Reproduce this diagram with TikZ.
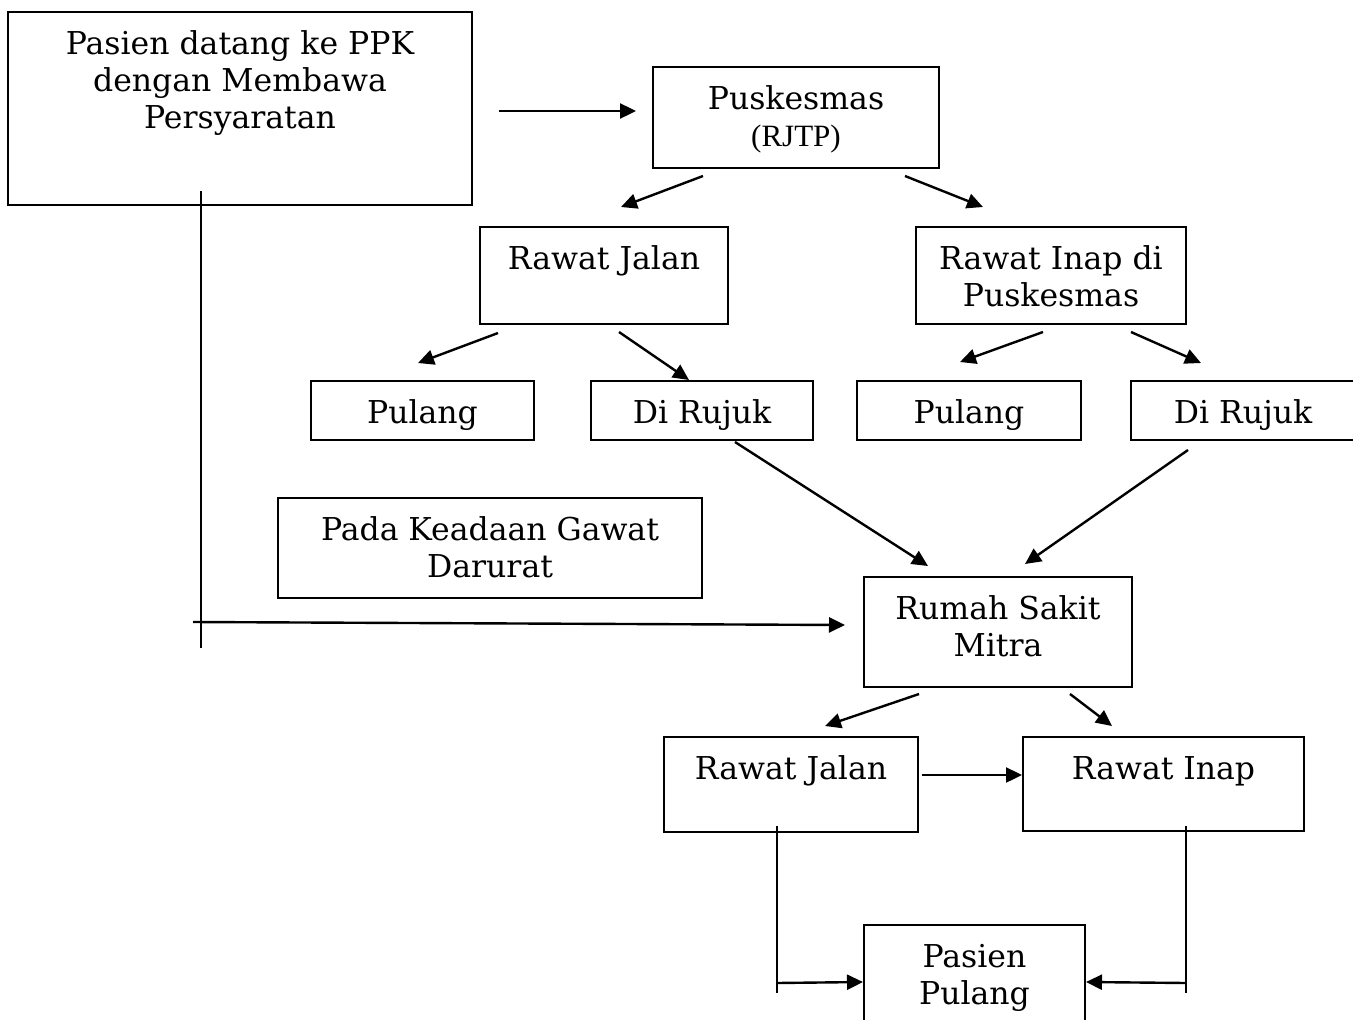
\documentclass[tikz,border=0pt]{standalone}
\usepackage{fontspec}
\setmainfont{DejaVu Serif}
\newfontfamily\rjtpfont{Liberation Serif}
\usepackage{tikz}
\usetikzlibrary{arrows.meta, positioning, calc}
\newcommand{\upbox}[3]{\parbox[c][#1][t]{#2}{\centering\rule{0pt}{42.5pt}#3}}

\begin{document}
\begin{tikzpicture}[x=1pt, y=-1pt,
  box/.style={draw, line width=2pt, inner sep=0pt, align=center,
    font=\fontsize{31.5}{37}\selectfont},
  arr/.style={line width=2.4pt, -{Triangle[length=16pt,width=15pt]}},
  ln/.style={line width=2.2pt}]
  \useasboundingbox (0,0) rectangle (1353,1020);
  % boxes
  \node[box, minimum width=464pt, minimum height=193pt] (ppk) at (240,108.5)
    {\upbox{193pt}{460pt}{Pasien datang ke PPK\\dengan Membawa\\Persyaratan}};
  \node[box, minimum width=286pt, minimum height=101pt] (pusk) at (796,117.5)
    {\upbox{101pt}{282pt}{Puskesmas\\{\rjtpfont\fontsize{31}{37}\selectfont (RJTP)}}};
  \node[box, minimum width=248pt, minimum height=97pt] (rj1) at (604,275.5)
    {\upbox{97pt}{244pt}{Rawat Jalan}};
  \node[box, minimum width=270pt, minimum height=97pt] (ri1) at (1051,275.5)
    {\upbox{97pt}{266pt}{Rawat Inap di\\Puskesmas}};
  \node[box, minimum width=223pt, minimum height=59pt] (pul1) at (422.5,410.5)
    {\upbox{59pt}{219pt}{Pulang}};
  \node[box, minimum width=222pt, minimum height=59pt] (ruj1) at (702,410.5)
    {\upbox{59pt}{218pt}{Di Rujuk}};
  \node[box, minimum width=224pt, minimum height=59pt] (pul2) at (969,410.5)
    {\upbox{59pt}{220pt}{Pulang}};
  \node[box, minimum width=224pt, minimum height=59pt] (ruj2) at (1243,410.5)
    {\upbox{59pt}{220pt}{Di Rujuk}};
  \node[box, minimum width=424pt, minimum height=100pt] (gawat) at (490,548)
    {\upbox{100pt}{420pt}{Pada Keadaan Gawat\\Darurat}};
  \node[box, minimum width=268pt, minimum height=110pt] (rsm) at (998,632)
    {\upbox{110pt}{264pt}{Rumah Sakit\\Mitra}};
  \node[box, minimum width=254pt, minimum height=95pt] (rj2) at (791,784.5)
    {\upbox{95pt}{250pt}{Rawat Jalan}};
  \node[box, minimum width=281pt, minimum height=94pt] (ri2) at (1163.5,784)
    {\upbox{94pt}{277pt}{Rawat Inap}};
  \node[box, minimum width=221pt, minimum height=100pt] (pp) at (974.5,975)
    {\upbox{100pt}{217pt}{Pasien\\Pulang}};

  % arrows
  \draw[arr] ($(ppk.east)+(26,2.5)$) -- ($(pusk.west)+(-16,-6.5)$);
  \draw[arr] ($(pusk.south)+(-93,7)$) -- ($(rj1.north)+(17,-19)$);
  \draw[arr] ($(pusk.south)+(109,7)$) -- ($(ri1.north)+(-68,-19)$);
  \draw[arr] ($(rj1.south)+(-106,8)$) -- ($(pul1.north)+(-4.5,-17)$);
  \draw[arr] ($(rj1.south)+(15,7)$) -- ($(ruj1.north)+(-13,0)$);
  \draw[arr] ($(ri1.south)+(-8,7)$) -- ($(pul2.north)+(-9,-18)$);
  \draw[arr] ($(ri1.south)+(80,7)$) -- ($(ruj2.north)+(-42,-17)$);
  \draw[arr] ($(ruj1.south)+(33,1)$) -- ($(rsm.north)+(-70,-10)$);
  \draw[arr] ($(ruj2.south)+(-55,9)$) -- ($(rsm.north)+(27,-12)$);
  % emergency path
  \draw[ln] ($(ppk.south)+(-39,-15)$) -- ++(0,457);
  \draw[arr] ($(ppk.south)+(-47,416)$) -- ($(rsm.west)+(-18,-7)$);
  \draw[arr] ($(rsm.south)+(-79,6)$) -- ($(rj2.north)+(34,-10)$);
  \draw[arr] ($(rsm.south)+(72,6)$) -- ($(ri2.north)+(-51.5,-10)$);
  \draw[arr] ($(rj2.east)+(3,-9.5)$) -- ($(ri2.west)+(0,-9)$);
  % to pasien pulang
  \draw[ln] ($(rj2.south)+(-14,-7)$) -- ++(0,167);
  \draw[arr] ($(rj2.south)+(-14,150)$) -- ($(pp.west)+(0,7)$);
  \draw[ln] ($(ri2.south)+(22.5,-6)$) -- ++(0,167);
  \draw[arr] ($(ri2.south)+(22.5,151)$) -- ($(pp.east)+(0,7)$);
\end{tikzpicture}
\end{document}
